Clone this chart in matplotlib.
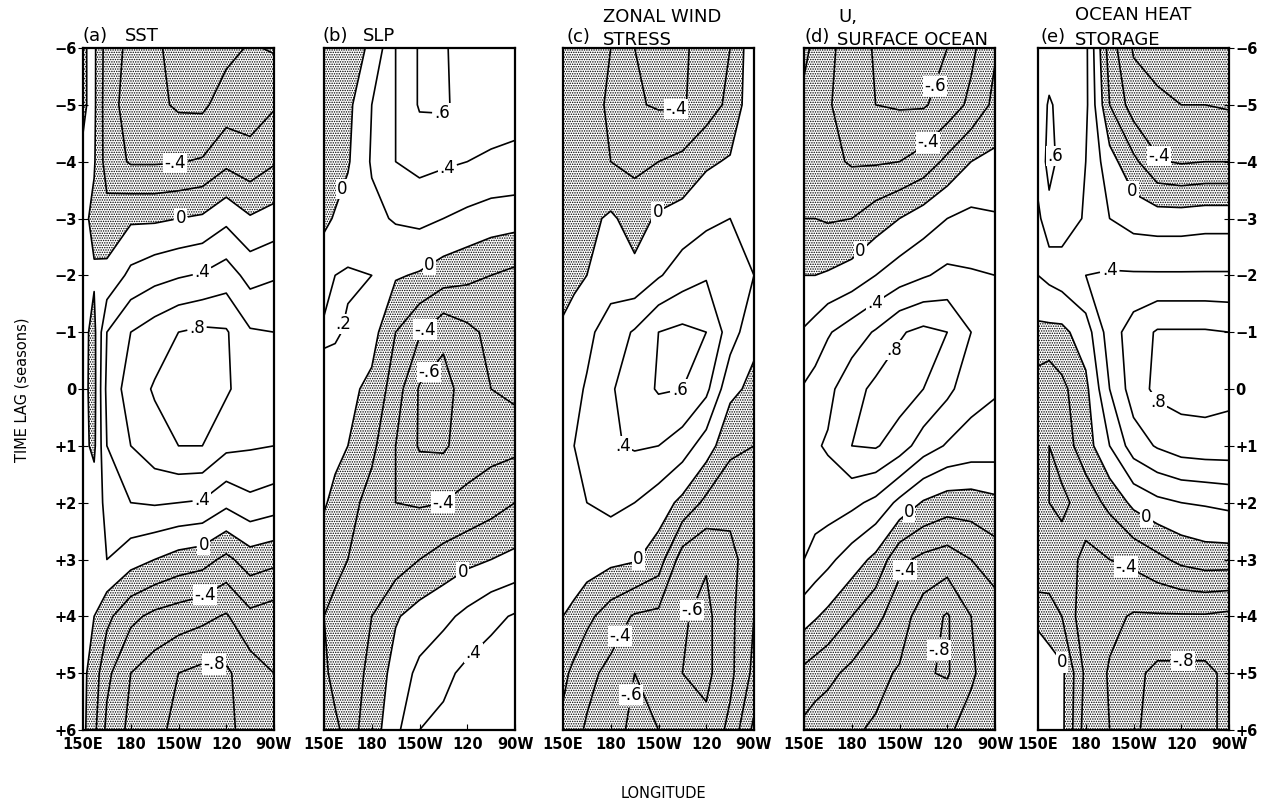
import numpy as np
import matplotlib
matplotlib.use("Agg")
import matplotlib.pyplot as plt

plt.rcParams["hatch.color"] = "black"
plt.rcParams["hatch.linewidth"] = 0.7
plt.rcParams["font.family"] = ["DejaVu Sans"]

# grid of the lag correlation maps: rows are lags (seasons), columns longitudes (deg E)
lags = [-6, -5, -4, -3, -2, -1, 0, 1, 2, 3, 4, 5, 6]
lons = [150, 157, 165, 180, 195, 210, 225, 240, 255, 270]
levels = [-1.0, -0.8, -0.6, -0.4, -0.2, 0.0, 0.2, 0.4, 0.6, 0.8, 1.0]

lon_ticks = [150, 180, 210, 240, 270]
lon_ticklabels = ["150E", "180", "150W", "120", "90W"]
lag_ticklabels = ["\u22126", "\u22125", "\u22124", "\u22123", "\u22122", "\u22121", "0",
                  "+1", "+2", "+3", "+4", "+5", "+6"]

sst = [
    [-0.02, 0.04, -0.30, -0.45, -0.55, -0.70, -0.72, -0.66, -0.58, -0.62],
    [-0.02, 0.04, -0.32, -0.48, -0.55, -0.63, -0.64, -0.50, -0.50, -0.42],
    [0.02, 0.02, -0.30, -0.42, -0.42, -0.41, -0.38, -0.25, -0.32, -0.22],
    [0.05, -0.05, -0.12, -0.03, -0.03, 0.00, 0.03, 0.15, 0.02, 0.08],
    [0.05, 0.02, 0.05, 0.25, 0.33, 0.38, 0.42, 0.50, 0.33, 0.38],
    [0.05, -0.05, 0.40, 0.60, 0.70, 0.80, 0.84, 0.82, 0.62, 0.60],
    [0.05, -0.06, 0.45, 0.70, 0.82, 0.88, 0.88, 0.83, 0.68, 0.70],
    [0.05, -0.04, 0.40, 0.60, 0.72, 0.80, 0.80, 0.65, 0.62, 0.60],
    [0.05, 0.10, 0.25, 0.40, 0.42, 0.40, 0.38, 0.25, 0.35, 0.30],
    [0.05, 0.12, 0.20, 0.08, 0.00, -0.08, -0.12, -0.25, -0.10, -0.15],
    [0.05, 0.00, -0.15, -0.35, -0.45, -0.50, -0.55, -0.62, -0.45, -0.50],
    [0.05, -0.10, -0.35, -0.60, -0.70, -0.80, -0.85, -0.83, -0.70, -0.60],
    [0.05, -0.15, -0.45, -0.65, -0.75, -0.85, -0.88, -0.85, -0.72, -0.65],
]

slp = [
    [-0.20, -0.15, -0.08, 0.03, 0.40, 0.62, 0.62, 0.52, 0.48, 0.45],
    [-0.20, -0.12, -0.05, 0.20, 0.40, 0.62, 0.63, 0.52, 0.47, 0.45],
    [-0.18, -0.10, -0.02, 0.22, 0.40, 0.46, 0.43, 0.40, 0.38, 0.37],
    [-0.05, 0.02, 0.08, 0.15, 0.22, 0.25, 0.20, 0.15, 0.10, 0.08],
    [0.15, 0.20, 0.22, 0.20, 0.02, -0.02, -0.10, -0.15, -0.20, -0.25],
    [0.22, 0.22, 0.18, 0.08, -0.20, -0.38, -0.55, -0.45, -0.35, -0.30],
    [0.15, 0.12, 0.05, -0.05, -0.30, -0.62, -0.68, -0.50, -0.40, -0.38],
    [0.10, 0.05, 0.00, -0.15, -0.40, -0.62, -0.63, -0.50, -0.47, -0.45],
    [0.02, -0.05, -0.12, -0.28, -0.40, -0.42, -0.40, -0.35, -0.28, -0.20],
    [-0.10, -0.15, -0.20, -0.30, -0.30, -0.20, -0.12, -0.05, 0.00, 0.05],
    [-0.20, -0.25, -0.30, -0.20, -0.02, 0.08, 0.15, 0.25, 0.35, 0.42],
    [-0.15, -0.28, -0.30, -0.15, 0.08, 0.25, 0.35, 0.45, 0.50, 0.52],
    [-0.10, -0.15, -0.28, -0.10, 0.15, 0.40, 0.45, 0.50, 0.55, 0.55],
]

wind_stress = [
    [-0.10, -0.12, -0.15, -0.20, -0.40, -0.45, -0.42, -0.35, -0.20, 0.15],
    [-0.10, -0.12, -0.15, -0.22, -0.38, -0.42, -0.42, -0.30, -0.15, 0.15],
    [-0.10, -0.12, -0.12, -0.20, -0.25, -0.20, -0.15, -0.03, 0.02, 0.15],
    [-0.10, -0.10, -0.05, 0.03, -0.08, 0.03, 0.08, 0.15, 0.20, 0.20],
    [-0.05, -0.05, 0.00, 0.10, 0.05, 0.18, 0.30, 0.38, 0.35, 0.20],
    [0.02, 0.10, 0.15, 0.30, 0.42, 0.60, 0.65, 0.60, 0.30, 0.05],
    [0.08, 0.15, 0.22, 0.38, 0.50, 0.62, 0.60, 0.45, 0.05, -0.05],
    [0.15, 0.20, 0.25, 0.38, 0.42, 0.40, 0.30, 0.10, -0.15, -0.20],
    [0.15, 0.20, 0.20, 0.25, 0.20, 0.10, -0.05, -0.25, -0.35, -0.30],
    [0.10, 0.12, 0.10, 0.05, 0.02, -0.10, -0.50, -0.58, -0.45, -0.30],
    [0.00, -0.05, -0.15, -0.30, -0.42, -0.45, -0.58, -0.65, -0.45, -0.20],
    [-0.15, -0.25, -0.35, -0.45, -0.60, -0.55, -0.60, -0.65, -0.45, -0.15],
    [-0.25, -0.35, -0.42, -0.52, -0.65, -0.60, -0.50, -0.55, -0.35, 0.05],
]

u_ocean = [
    [-0.15, -0.25, -0.35, -0.50, -0.62, -0.68, -0.68, -0.60, -0.45, -0.22],
    [-0.25, -0.30, -0.38, -0.50, -0.60, -0.62, -0.62, -0.52, -0.35, -0.15],
    [-0.28, -0.30, -0.35, -0.42, -0.42, -0.40, -0.32, -0.15, 0.00, 0.05],
    [-0.20, -0.20, -0.22, -0.20, -0.10, 0.00, 0.10, 0.20, 0.25, 0.22],
    [0.00, 0.00, 0.02, 0.08, 0.20, 0.30, 0.38, 0.45, 0.42, 0.40],
    [0.22, 0.28, 0.38, 0.50, 0.62, 0.78, 0.85, 0.80, 0.60, 0.45],
    [0.42, 0.48, 0.55, 0.72, 0.85, 0.90, 0.80, 0.65, 0.48, 0.42],
    [0.55, 0.58, 0.62, 0.80, 0.82, 0.70, 0.50, 0.38, 0.32, 0.30],
    [0.52, 0.50, 0.50, 0.45, 0.35, 0.15, -0.02, -0.10, -0.10, -0.05],
    [0.40, 0.32, 0.25, 0.10, -0.05, -0.35, -0.45, -0.50, -0.40, -0.30],
    [0.08, 0.02, -0.05, -0.20, -0.35, -0.50, -0.70, -0.82, -0.60, -0.50],
    [-0.25, -0.30, -0.35, -0.45, -0.55, -0.62, -0.78, -0.82, -0.62, -0.52],
    [-0.45, -0.50, -0.52, -0.58, -0.62, -0.65, -0.65, -0.62, -0.55, -0.45],
]

heat_storage = [
    [0.55, 0.50, 0.50, 0.45, -0.30, -0.62, -0.70, -0.72, -0.70, -0.70],
    [0.50, 0.62, 0.55, 0.45, -0.20, -0.50, -0.55, -0.60, -0.60, -0.62],
    [0.50, 0.65, 0.55, 0.40, 0.08, -0.15, -0.38, -0.42, -0.40, -0.40],
    [0.35, 0.55, 0.50, 0.38, 0.20, 0.12, 0.10, 0.10, 0.12, 0.12],
    [0.20, 0.25, 0.30, 0.40, 0.42, 0.42, 0.42, 0.42, 0.42, 0.42],
    [-0.05, -0.05, -0.05, 0.10, 0.50, 0.70, 0.82, 0.82, 0.82, 0.80],
    [-0.30, -0.35, -0.25, -0.05, 0.40, 0.70, 0.85, 0.88, 0.88, 0.85],
    [-0.30, -0.40, -0.30, -0.10, 0.20, 0.50, 0.62, 0.70, 0.72, 0.72],
    [-0.30, -0.40, -0.45, -0.30, -0.15, 0.05, 0.15, 0.20, 0.22, 0.25],
    [-0.40, -0.35, -0.30, -0.45, -0.40, -0.35, -0.25, -0.15, -0.10, -0.10],
    [-0.05, -0.10, -0.20, -0.55, -0.55, -0.62, -0.62, -0.62, -0.62, -0.65],
    [0.15, 0.10, 0.05, -0.45, -0.62, -0.75, -0.85, -0.85, -0.85, -0.75],
    [0.10, 0.15, 0.05, -0.50, -0.60, -0.78, -0.85, -0.88, -0.85, -0.75],
]

# contour labels: (value, lon, lag)
sst_labels = [(-0.4, 208, -4.0), (0.0, 212, -2.9), (0.4, 226, -2.0), (0.8, 223, -0.9),
              (0.4, 226, 2.0), (0.0, 227, 2.8), (-0.4, 228, 3.7), (-0.8, 232, 5.0)]
slp_labels = [(0.6, 224, -4.8), (0.4, 228, -3.85), (0.0, 163, -3.5), (0.0, 216, -2.2),
              (0.2, 170, -1.1), (-0.4, 215, -1.0), (-0.6, 216, -0.3), (-0.4, 227, 2.1),
              (0.0, 239, 3.3), (0.4, 246, 4.7)]
wind_labels = [(-0.4, 221, -5.1), (0.0, 206, -3.2), (0.6, 224, 0.1), (0.4, 186, 1.1),
               (0.0, 200, 3.1), (-0.6, 232, 3.9), (-0.4, 190, 4.4), (-0.6, 196, 5.4)]
u_labels = [(-0.6, 236, -5.3), (-0.4, 229, -4.3), (0.0, 186, -2.4), (0.4, 195, -1.5),
            (0.8, 206, -0.7), (0.0, 217, 2.2), (-0.4, 214, 3.2), (-0.8, 237, 4.6)]
heat_labels = [(0.6, 161, -4.1), (-0.4, 228, -4.2), (0.0, 211, -3.5), (0.4, 195, -2.1),
               (0.8, 225, 0.25), (0.0, 217, 2.3), (-0.4, 204, 3.2), (0.0, 167, 4.8),
               (-0.8, 241, 4.85)]


def fmt_level(v):
    if abs(v) < 1e-9:
        return "0"
    return ("-" if v < 0 else "") + ("%.1f" % abs(v))[1:]


def draw_panel(ax, field, labels):
    z = np.array(field)
    ax.contourf(lons, lags, z, levels=[-2.0, 0.0], colors="none", hatches=["......."])
    # one contour set per level so each label lands on its own level
    for lvl in levels:
        if z.min() > lvl or z.max() < lvl:
            continue
        cs = ax.contour(lons, lags, z, levels=[lvl], colors="black",
                        linewidths=1.2, linestyles="solid")
        pts = [(x, y) for v, x, y in labels if abs(v - lvl) < 1e-9]
        if pts:
            texts = ax.clabel(cs, manual=pts, fmt=fmt_level, fontsize=12,
                              inline=True, inline_spacing=2)
            for t in texts:
                t.set_rotation(0)
                t.set_bbox(dict(facecolor="white", edgecolor="none", pad=0.8))
    ax.set_xlim(150, 270)
    ax.set_ylim(6, -6)
    ax.set_xticks(lon_ticks)
    ax.set_xticklabels(lon_ticklabels, fontsize=10.5, fontweight="bold")
    ax.tick_params(axis="x", direction="in", length=4, pad=5)
    for s in ax.spines.values():
        s.set_linewidth(1.6)


fig = plt.figure(figsize=(12.69, 8.05), dpi=100)
W, H = 1269.0, 805.0
lefts = [83, 324, 563, 804, 1038]
fields = [sst, slp, wind_stress, u_ocean, heat_storage]
all_labels = [sst_labels, slp_labels, wind_labels, u_labels, heat_labels]

axes = []
for left, field, labs in zip(lefts, fields, all_labels):
    ax = fig.add_axes([left / W, 1 - 730 / H, 191 / W, 682 / H])
    draw_panel(ax, field, labs)
    ax.set_yticks(lags)
    ax.tick_params(axis="y", left=False, right=False, labelleft=False)
    axes.append(ax)

axes[0].tick_params(axis="y", left=True, labelleft=True, direction="inout", length=7, pad=1)
axes[0].set_yticklabels(lag_ticklabels, fontsize=10.5, fontweight="bold")
axes[4].tick_params(axis="y", right=True, labelright=True, direction="inout", length=7, pad=1)
axes[4].set_yticklabels(lag_ticklabels, fontsize=10.5, fontweight="bold")

# panel titles
tkw = dict(fontsize=13, va="center", ha="left")
fig.text(83 / W, 1 - 36 / H, "(a)", **tkw)
fig.text(125 / W, 1 - 36 / H, "SST", **tkw)
fig.text(323 / W, 1 - 36 / H, "(b)", **tkw)
fig.text(363 / W, 1 - 36 / H, "SLP", **tkw)
fig.text(566 / W, 1 - 37 / H, "(c)", **tkw)
fig.text(603 / W, 1 - 17 / H, "ZONAL WIND", **tkw)
fig.text(603 / W, 1 - 40 / H, "STRESS", **tkw)
fig.text(804 / W, 1 - 37 / H, "(d)", **tkw)
fig.text(838 / W, 1 - 17 / H, "U,", **tkw)
fig.text(837 / W, 1 - 40 / H, "SURFACE OCEAN", **tkw)
fig.text(1040 / W, 1 - 37 / H, "(e)", **tkw)
fig.text(1075 / W, 1 - 15 / H, "OCEAN HEAT", **tkw)
fig.text(1075 / W, 1 - 40 / H, "STORAGE", **tkw)

fig.text(22 / W, 1 - 390 / H, "TIME LAG (seasons)", rotation=90, fontsize=10.5,
         va="center", ha="center")
fig.text(663 / W, 1 - 793 / H, "LONGITUDE", fontsize=10.5, va="center", ha="center")

fig.savefig("out.png", dpi=100)
